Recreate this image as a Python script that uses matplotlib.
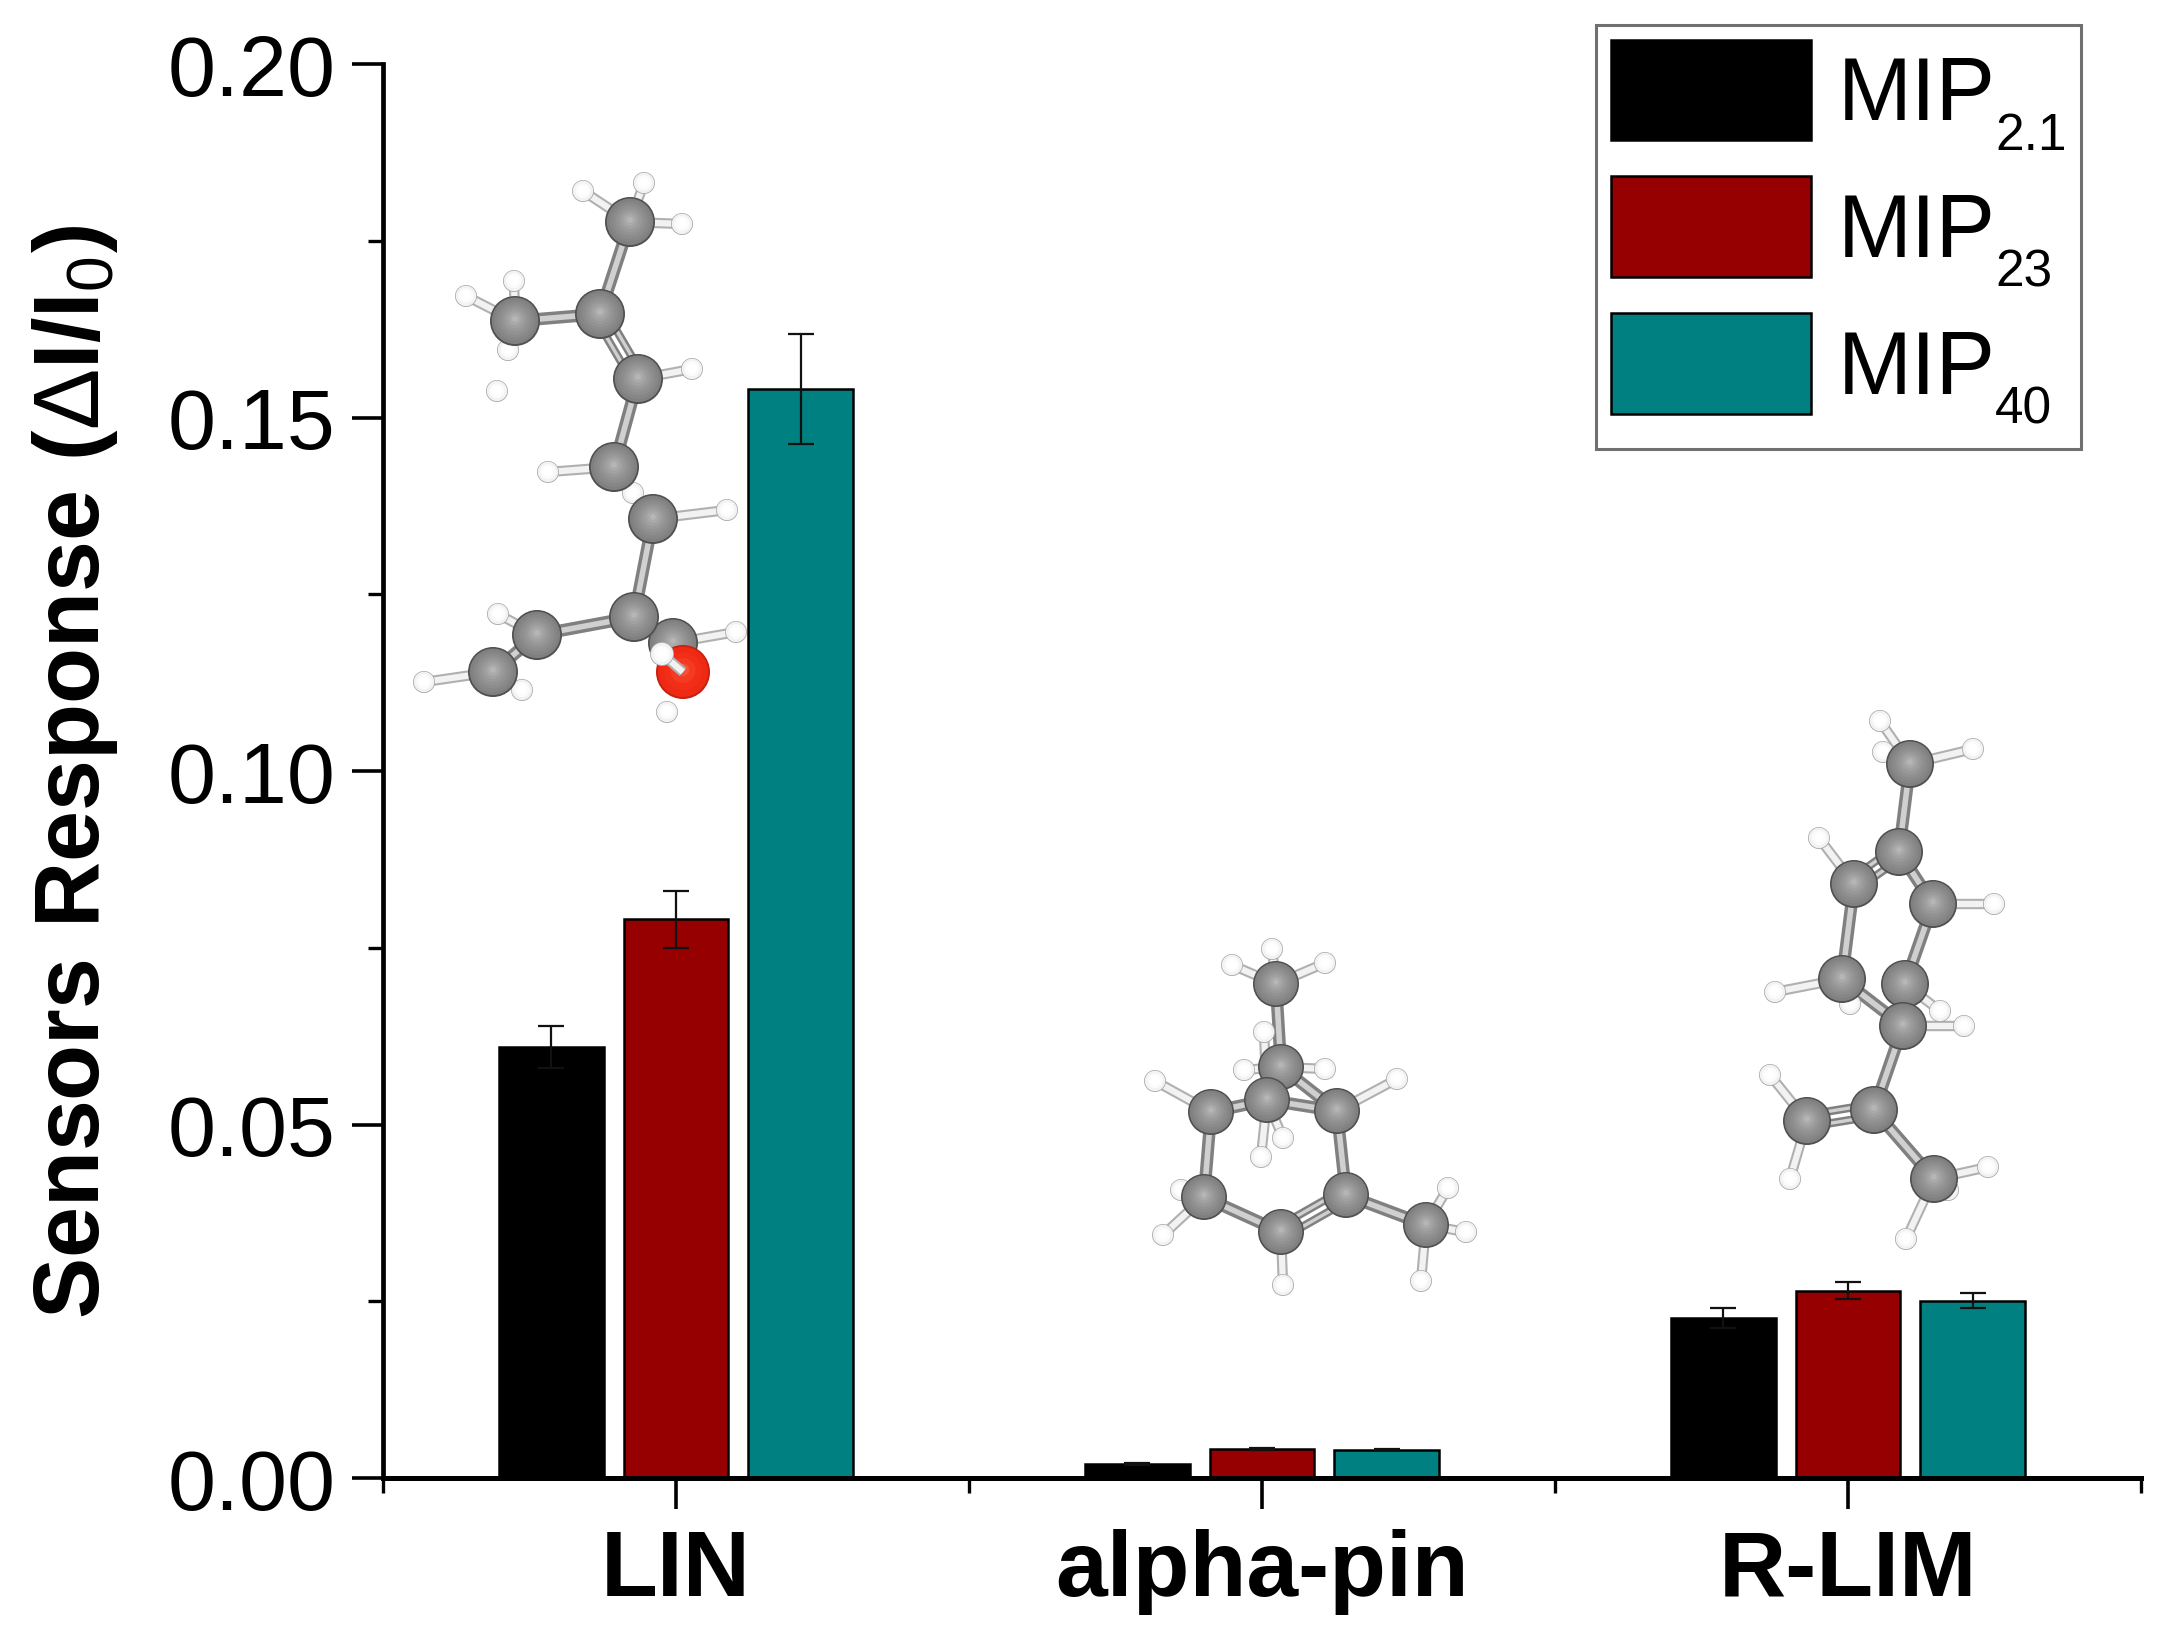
import math
import matplotlib
matplotlib.use("Agg")
import matplotlib.pyplot as plt
from matplotlib.patches import Circle, Rectangle
from matplotlib.ticker import MultipleLocator

plt.rcParams['font.family'] = ['Liberation Sans', 'DejaVu Sans']
plt.rcParams['mathtext.fontset'] = 'custom'
plt.rcParams['mathtext.rm'] = 'Liberation Sans'
plt.rcParams['mathtext.bf'] = 'Liberation Sans:bold'
plt.rcParams['mathtext.default'] = 'rm'

# data
categories = ['LIN', 'alpha-pin', 'R-LIM']
series_names = ['MIP', 'MIP', 'MIP']
series_subs = ['2.1', '23', '40']
series_colors = ['#000000', '#960000', '#008080']
mip_21 = [0.0610, 0.0020, 0.0226]
mip_23 = [0.0790, 0.0041, 0.0265]
mip_40 = [0.1540, 0.0040, 0.0251]
err_21 = [0.0030, 0.0001, 0.0014]
err_23 = [0.0040, 0.0001, 0.0012]
err_40 = [0.0078, 0.0001, 0.0010]
y_ticks = [0.00, 0.05, 0.10, 0.15, 0.20]

# molecule sketches, atoms in picture pixels
lin_c = [(630, 223), (515, 322), (600, 315), (638, 380), (614, 468), (653, 520),
         (673, 644), (634, 618), (537, 636), (493, 673)]
lin_h = [(644, 184), (583, 192), (682, 225), (514, 282), (466, 297), (508, 351),
         (497, 392), (692, 370), (548, 473), (633, 494), (727, 511), (498, 615),
         (424, 683), (522, 691), (736, 633), (667, 713)]
lin_o = (683, 673)
lin_o_h = (662, 655)
lin_bonds = [(0, 2), (1, 2), (3, 4), (4, 5), (5, 7), (7, 8), (8, 9), (7, 6)]
lin_double = [(2, 3)]
lin_h_bonds = [(0, 0), (0, 1), (0, 2), (1, 3), (1, 4), (1, 5), (3, 7), (4, 8), (5, 9),
               (5, 10), (8, 11), (9, 12), (9, 13), (6, 14)]

pin_c = [(1276, 985), (1281, 1068), (1211, 1113), (1337, 1112), (1267, 1101),
         (1204, 1198), (1346, 1196), (1281, 1233), (1426, 1226)]
pin_h = [(1272, 950), (1232, 966), (1325, 964), (1264, 1033), (1155, 1082), (1397, 1080),
         (1244, 1071), (1325, 1070), (1261, 1158), (1283, 1139), (1163, 1236), (1181, 1191),
         (1283, 1286), (1448, 1189), (1466, 1233), (1421, 1282)]
pin_bonds = [(0, 1), (1, 4), (1, 3), (4, 2), (4, 3), (2, 5), (3, 6), (5, 7), (6, 8)]
pin_double = [(6, 7)]
pin_h_bonds = [(0, 0), (0, 1), (0, 2), (4, 3), (2, 4), (3, 5), (1, 6), (1, 7), (4, 8), (4, 9),
               (5, 10), (5, 11), (7, 12), (8, 13), (8, 14), (8, 15)]

lim_c = [(1910, 765), (1899, 853), (1854, 885), (1933, 905), (1905, 985), (1842, 980),
         (1903, 1027), (1874, 1111), (1807, 1122), (1934, 1180)]
lim_h = [(1880, 722), (1883, 753), (1973, 750), (1819, 839), (1994, 905), (1775, 993),
         (1850, 1005), (1940, 1012), (1964, 1027), (1770, 1076), (1790, 1180), (1988, 1168),
         (1948, 1191), (1906, 1240)]
lim_bonds = [(0, 1), (1, 3), (2, 5), (3, 4), (4, 6), (5, 6), (6, 7), (7, 9)]
lim_double = [(1, 2), (7, 8)]
lim_h_bonds = [(0, 0), (0, 1), (0, 2), (2, 3), (3, 4), (5, 5), (5, 6), (4, 7), (6, 8), (8, 9),
               (8, 10), (9, 11), (9, 12), (9, 13)]

W, H = 2159, 1640
fig = plt.figure(figsize=(W / 100, H / 100), dpi=100)
ax = fig.add_axes([383 / W, 1 - 1479 / H, (2141 - 383) / W, (1479 - 65) / H])

width = 0.178
step = 0.2125
xs = [1, 2, 3]
values = [mip_21, mip_23, mip_40]
errors = [err_21, err_23, err_40]
bars = []
for i in range(3):
    pos = [x + (i - 1) * step for x in xs]
    b = ax.bar(pos, values[i], width, color=series_colors[i], edgecolor='black', linewidth=1.8,
               yerr=errors[i], error_kw=dict(ecolor='#111111', elinewidth=1.6, capsize=9.5, capthick=1.6))
    bars.append(b)

ax.set_xlim(0.5, 3.5)
ax.set_ylim(0, 0.2)
ax.spines['top'].set_visible(False)
ax.spines['right'].set_visible(False)
ax.spines['left'].set_linewidth(3.4)
ax.spines['bottom'].set_linewidth(3.6)
ax.set_xticks(xs)
ax.set_xticklabels(categories, fontsize=67, fontweight='bold')
ax.set_xticks([0.5, 1.5, 2.5, 3.5], minor=True)
ax.set_yticks(y_ticks)
ax.set_yticklabels(['%.2f' % v for v in y_ticks], fontsize=62)
ax.yaxis.set_minor_locator(MultipleLocator(0.025))
ax.tick_params(axis='both', which='major', length=22, width=2.6)
ax.tick_params(axis='both', which='minor', length=11, width=2.4)
ax.tick_params(axis='x', which='major', pad=14)
ax.tick_params(axis='y', which='major', pad=12)

ax.set_ylabel(r'$\mathbf{Sensors\ Response\ (}\Delta\mathbf{I/I}_{0}\mathbf{)}$', fontsize=66)
ax.yaxis.set_label_coords((120 - 383) / 1758, 0.5)

leg = ax.legend([b[0] for b in bars], series_names, loc='upper left',
                bbox_to_anchor=((1596 - 383) / 1758, (1479 - 26) / 1414),
                borderaxespad=0, fontsize=64, frameon=False,
                handlelength=2.25, handleheight=1.36, labelspacing=0.41,
                handletextpad=0.30, borderpad=0.165)
for t, sub in zip(leg.get_texts(), series_subs):
    ax.annotate(sub, xy=(1, 0), xycoords=t, xytext=(0, -7.5), textcoords='offset points',
                fontsize=37, ha='left', va='baseline', zorder=6, annotation_clip=False)

# overlay in picture pixels for the legend frame and molecule sketches
ov = fig.add_axes([0, 0, 1, 1], facecolor='none')
ov.set_xlim(0, W)
ov.set_ylim(H, 0)
ov.axis('off')
ov.add_patch(Rectangle((1596, 26), 2081 - 1596, 450 - 26, fill=False, edgecolor='#707070', linewidth=2.2))


def bond(p, q, outer, inner, lw_o, lw_i, z=2):
    x = [p[0], q[0]]
    y = [p[1], q[1]]
    ov.plot(x, y, color=outer, lw=lw_o, solid_capstyle='butt', zorder=z)
    ov.plot(x, y, color=inner, lw=lw_i, solid_capstyle='butt', zorder=z)


def double_bond(p, q, gap=6):
    dx, dy = q[0] - p[0], q[1] - p[1]
    n = math.hypot(dx, dy)
    ox, oy = -dy / n * gap, dx / n * gap
    for s in (-1, 1):
        bond((p[0] + s * ox, p[1] + s * oy), (q[0] + s * ox, q[1] + s * oy),
             '#808080', '#d0d0d0', 6, 2.4)


def atom(p, r, shades, z=3):
    ov.add_patch(Circle(p, r, color=shades[0], lw=0, zorder=z))
    n = len(shades) - 1
    for k, c in enumerate(shades[1:]):
        f = 0.93 * (1 - k / n)
        ov.add_patch(Circle((p[0], p[1] - (1 - f) * r * 0.1), r * f, color=c, lw=0, zorder=z))


GREY = ['#505050', '#808080', '#868686', '#8c8c8c', '#929292', '#999999', '#a1a1a1', '#aaaaaa', '#b6b6b6']
RED = ['#c8200f', '#ee2a14', '#f22e18', '#f43a22', '#f65038']
WHITE = ['#a8a8a8', '#f2f2f2', '#fbfbfb', '#ffffff', '#ffffff']


def molecule(carbons, hydrogens, bonds, doubles, h_bonds, c_r):
    for a, b in h_bonds:
        bond(carbons[a], hydrogens[b], '#b0b0b0', '#f2f2f2', 7.5, 4.5)
    for a, b in bonds:
        bond(carbons[a], carbons[b], '#808080', '#d0d0d0', 9, 4)
    for a, b in doubles:
        double_bond(carbons[a], carbons[b])
    for h in hydrogens:
        atom(h, 11, WHITE, z=2.5)
    for c in carbons:
        atom(c, c_r, GREY)


molecule(lin_c, lin_h, lin_bonds, lin_double, lin_h_bonds, 25)
atom(lin_o, 27, RED, z=3.5)
bond(lin_o, lin_o_h, '#b0b0b0', '#f2f2f2', 7.5, 4.5, z=4)
atom(lin_o_h, 12, WHITE, z=4)
molecule(pin_c, pin_h, pin_bonds, pin_double, pin_h_bonds, 23)
molecule(lim_c, lim_h, lim_bonds, lim_double, lim_h_bonds, 24)

fig.savefig('out.png', dpi=100)
